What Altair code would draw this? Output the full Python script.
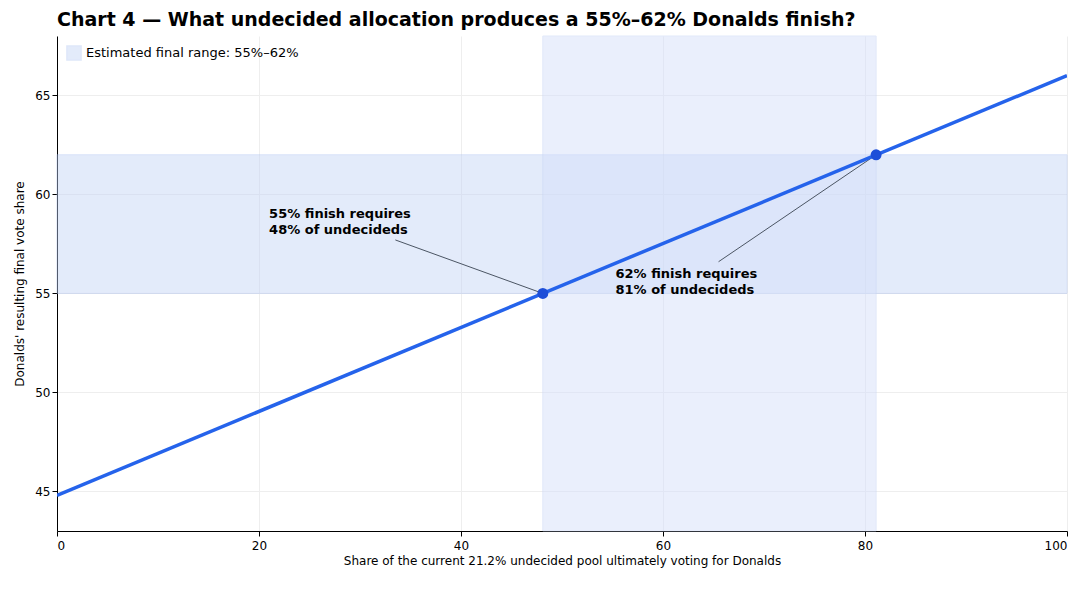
import altair as alt
import pandas as pd

line_x = [0, 100]
line_y = [44.8, 66.0]
pt_x = [48.1, 81.1]
pt_y = [55, 62]
band_label = ["Estimated final range: 55%–62%"]
ann_text = [["55% finish requires", "48% of undecideds"], ["62% finish requires", "81% of undecideds"]]
ann_x = [21.0, 55.3]
ann_y = [59.3, 56.3]
arrow_x = [33.5, 65.5]
arrow_y = [57.7, 56.6]

X = alt.Scale(domain=[0, 100], nice=False)
Y = alt.Scale(domain=[43, 68], nice=False, zero=False)

xax = alt.Axis(values=[0, 20, 40, 60, 80, 100], title="Share of the current 21.2% undecided pool ultimately voting for Donalds",
               gridColor="#eeeeee", tickColor="#000", domainColor="#000", labelColor="#000", titleColor="#000",
               labelFontSize=12, titleFontSize=12, titleFontWeight="normal", labelPadding=4)
yax = alt.Axis(values=[45, 50, 55, 60, 65], title="Donalds' resulting final vote share",
               gridColor="#eeeeee", tickColor="#000", domainColor="#000", labelColor="#000", titleColor="#000",
               labelFontSize=12, titleFontSize=12, titleFontWeight="normal", titlePadding=8)

hb = pd.DataFrame({"y": [55], "y2": [62], "x": [0], "x2": [100], "lab": band_label})
hband = alt.Chart(hb).mark_rect(opacity=0.45, stroke="#a9bff0", strokeWidth=1).encode(
    x=alt.X("x:Q", scale=X, axis=xax), x2="x2", y=alt.Y("y:Q", scale=Y, axis=yax), y2="y2",
    color=alt.Color("lab:N", scale=alt.Scale(range=["#c3d3f5"]),
                    legend=alt.Legend(title=None, orient="top-left", symbolType="square", symbolSize=200,
                                      labelFontSize=13, labelColor="#000", symbolStrokeColor="#b9cbf3",
                                      labelLimit=400, offset=6, padding=3)))

vb = pd.DataFrame({"x": [pt_x[0]], "x2": [pt_x[1]], "y": [43], "y2": [68]})
vband = alt.Chart(vb).mark_rect(color="#d6e0fa", opacity=0.5, stroke="#c6d4f6").encode(
    x=alt.X("x:Q", scale=X), x2="x2", y=alt.Y("y:Q", scale=Y), y2="y2")

ld = pd.DataFrame({"x": line_x, "y": line_y})
line = alt.Chart(ld).mark_line(color="#2563eb", strokeWidth=3.5, clip=True).encode(
    x=alt.X("x:Q", scale=X), y=alt.Y("y:Q", scale=Y))

pd_ = pd.DataFrame({"x": pt_x, "y": pt_y})
pts = alt.Chart(pd_).mark_circle(color="#1d4ed8", size=120, opacity=1).encode(
    x=alt.X("x:Q", scale=X), y=alt.Y("y:Q", scale=Y))

ad = pd.DataFrame({"x": arrow_x, "y": arrow_y, "x2": pt_x, "y2": pt_y})
arrows = alt.Chart(ad).mark_rule(color="#4b5563", strokeWidth=1).encode(
    x=alt.X("x:Q", scale=X), y=alt.Y("y:Q", scale=Y), x2="x2", y2="y2")

tx = pd.DataFrame({"x": ann_x, "y": ann_y, "t": ann_text})
texts = alt.Chart(tx).mark_text(align="left", baseline="top", fontSize=13, fontWeight="bold",
                                color="#000", lineHeight=16).encode(
    x=alt.X("x:Q", scale=X), y=alt.Y("y:Q", scale=Y), text="t")

chart = alt.layer(hband, vband, arrows, line, pts, texts).properties(
    width=1010, height=495,
    title=alt.Title("Chart 4 — What undecided allocation produces a 55%–62% Donalds finish?",
                    anchor="start", frame="group", fontSize=19, fontWeight="bold", color="#000", offset=6,
                    font="DejaVu Sans"),
    padding={"left": 5, "top": 2, "right": 5, "bottom": 5},
).configure_view(stroke=None).configure_axis(labelFont="DejaVu Sans", titleFont="DejaVu Sans").configure_legend(
    labelFont="DejaVu Sans").configure_text(font="DejaVu Sans")

chart.save("out.html", embed_options={"renderer": "svg", "actions": False})
